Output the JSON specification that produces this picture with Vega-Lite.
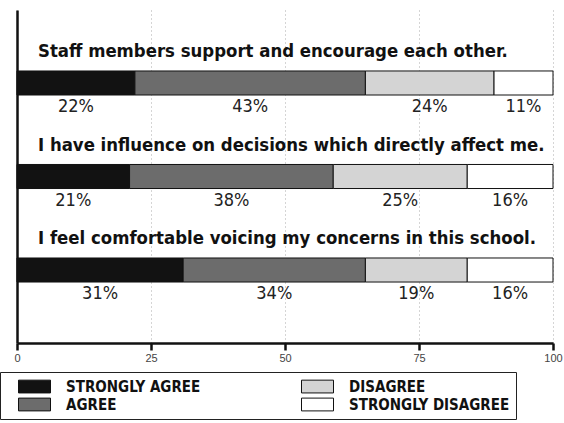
{
  "$schema": "https://vega.github.io/schema/vega-lite/v6.json",
  "width": 536,
  "height": 333,
  "autosize": "none",
  "padding": {"left": 17, "top": 10, "right": 11, "bottom": 80},
  "background": "white",
  "config": {"view": {"stroke": null}},
  "datasets": {
    "resp": [
      {"question": "Staff members support and encourage each other.", "response": "STRONGLY AGREE", "k": 1, "share": 0.22},
      {"question": "Staff members support and encourage each other.", "response": "AGREE", "k": 2, "share": 0.43},
      {"question": "Staff members support and encourage each other.", "response": "DISAGREE", "k": 3, "share": 0.24},
      {"question": "Staff members support and encourage each other.", "response": "STRONGLY DISAGREE", "k": 4, "share": 0.11},
      {"question": "I have influence on decisions which directly affect me.", "response": "STRONGLY AGREE", "k": 1, "share": 0.21},
      {"question": "I have influence on decisions which directly affect me.", "response": "AGREE", "k": 2, "share": 0.38},
      {"question": "I have influence on decisions which directly affect me.", "response": "DISAGREE", "k": 3, "share": 0.25},
      {"question": "I have influence on decisions which directly affect me.", "response": "STRONGLY DISAGREE", "k": 4, "share": 0.16},
      {"question": "I feel comfortable voicing my concerns in this school.", "response": "STRONGLY AGREE", "k": 1, "share": 0.31},
      {"question": "I feel comfortable voicing my concerns in this school.", "response": "AGREE", "k": 2, "share": 0.34},
      {"question": "I feel comfortable voicing my concerns in this school.", "response": "DISAGREE", "k": 3, "share": 0.19},
      {"question": "I feel comfortable voicing my concerns in this school.", "response": "STRONGLY DISAGREE", "k": 4, "share": 0.16}
    ],
    "q": [
      {"question": "Staff members support and encourage each other."},
      {"question": "I have influence on decisions which directly affect me."},
      {"question": "I feel comfortable voicing my concerns in this school."}
    ]
  },
  "layer": [
    {
      "data": {"name": "resp"},
      "mark": {"type": "bar", "stroke": "#111", "strokeWidth": 1},
      "encoding": {
        "y": {
          "field": "question", "type": "nominal", "sort": null,
          "scale": {
            "domain": ["Staff members support and encourage each other.", "I have influence on decisions which directly affect me.", "I feel comfortable voicing my concerns in this school."],
            "paddingInner": 0.743, "paddingOuter": 0.652
          },
          "axis": {"title": null, "labels": false, "ticks": false, "grid": false, "domain": true, "domainColor": "#111", "domainWidth": 2.5}
        },
        "x": {
          "field": "share", "type": "quantitative", "stack": "zero",
          "scale": {"domain": [0, 1], "nice": false},
          "axis": {
            "title": null, "values": [0, 0.25, 0.5, 0.75, 1],
            "labelExpr": "format(datum.value*100,'d')",
            "domainColor": "#111", "domainWidth": 2.5,
            "tickColor": "#111", "tickWidth": 2.5, "tickSize": 7,
            "labelFont": "Liberation Sans", "labelFontSize": 11, "labelColor": "#444", "labelPadding": 2,
            "labelFlush": false, "labelOverlap": false,
            "grid": true, "gridColor": "#aaa", "gridDash": [1, 3], "gridWidth": 1
          }
        },
        "color": {
          "field": "response", "type": "nominal",
          "scale": {
            "domain": ["STRONGLY AGREE", "AGREE", "DISAGREE", "STRONGLY DISAGREE"],
            "range": ["#121212", "#6c6c6c", "#d4d4d4", "#ffffff"]
          },
          "legend": {
            "title": null, "orient": "none", "legendX": -17, "legendY": 362,
            "columns": 2,
            "symbolType": "M-1,-0.8H3V0.8H-1Z", "symbolSize": 256,
            "symbolStrokeColor": "#111", "symbolStrokeWidth": 1, "symbolOpacity": 1,
            "symbolOffset": 12,
            "labelFont": "DejaVu Sans Condensed", "labelFontWeight": "bold", "labelFontSize": 15, "labelColor": "#111",
            "labelLimit": 400,
            "labelOffset": 31, "columnPadding": 88, "rowPadding": 1, "padding": 6,
            "strokeColor": "#222"
          }
        },
        "order": {"field": "k", "type": "quantitative"}
      }
    },
    {
      "data": {"name": "resp"},
      "mark": {"type": "text", "dy": 24, "font": "DejaVu Sans Condensed", "fontSize": 18, "color": "#222"},
      "encoding": {
        "y": {"field": "question", "type": "nominal", "sort": null},
        "x": {"field": "share", "type": "quantitative", "stack": "zero", "bandPosition": 0.5},
        "detail": {"field": "response"},
        "order": {"field": "k", "type": "quantitative"},
        "text": {"field": "share", "type": "quantitative", "format": ".0%"}
      }
    },
    {
      "data": {"name": "q"},
      "mark": {"type": "text", "align": "left", "dx": 21, "dy": -32, "font": "DejaVu Sans Condensed", "fontWeight": "bold", "fontSize": 18.4, "color": "#111"},
      "encoding": {
        "y": {"field": "question", "type": "nominal", "sort": null},
        "x": {"datum": 0, "type": "quantitative"},
        "text": {"field": "question"}
      }
    }
  ]
}
